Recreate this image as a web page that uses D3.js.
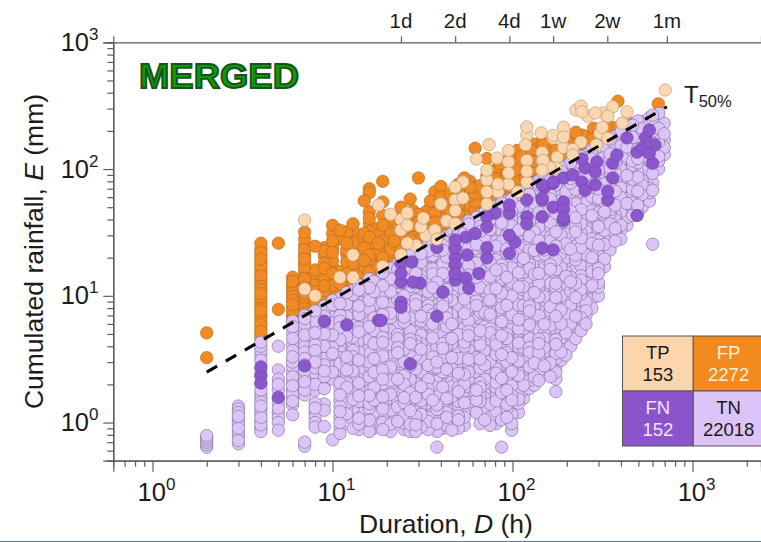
<!DOCTYPE html>
<html>
<head>
<meta charset="utf-8">
<script src="https://cdn.jsdelivr.net/npm/d3@7"></script>
<style>
  html, body { margin: 0; padding: 0; background: #fff; }
  svg { display: block; }
  text { font-family: "Liberation Sans", Arial, sans-serif; fill: #1c1c1c; }
</style>
</head>
<body>
<svg id="chart" width="761" height="542" viewBox="0 0 761 542"></svg>
<script>
// true negatives: one list of cumulated rainfall per duration
const tnD = [2, 3, 4, 5, 6, 7, 8, 9, 10, 11, 12, 13, 14, 16, 17, 19, 21, 23, 25, 27, 29, 31, 34, 36, 38, 41, 43, 46, 50, 54, 57, 63, 66, 70, 75, 81, 87, 93, 99, 108, 115, 124, 132, 140, 150, 162, 174, 186, 198, 210, 224, 240, 256, 276, 300, 324, 348, 372, 400, 432, 464, 496, 525, 576, 600, 648, 696];
const tnE = [
  [.64, .67, .7, .73, .76, .79],
  [.68, .72, .78, .84, .9, .97, 1.05, 1.12, 1.2, 1.28, 1.35],
  [.85, .9, .96, 1.03, 1.1, 1.18, 1.26, 1.35, 1.45, 1.55, 1.65, 1.8, 2, 2.3, 2.6, 3.1, 3.4, 3.7, 4, 4.3],
  [.87, 1, 1.1, 1.2, 1.3, 1.42, 1.55, 1.8, 2, 2.2, 2.6, 4],
  [1.15, 1.38, 1.47, 1.57, 1.68, 1.8, 1.95, 2.1, 2.3, 2.5, 2.75, 3, 3.3, 3.7, 4.1, 4.6, 5.1, 5.7, 6.3],
  [.65, .7, 1.65, 1.8, 1.95, 2.1, 2.3, 2.55, 2.85, 3.2, 3.6, 4, 4.4, 4.9, 5.4, 6, 6.6, 7],
  [.92, 1, 1.1, 1.2, 1.3, 1.42, 1.8, 2, 2.2, 2.45, 2.7, 3, 3.3, 3.7, 4.1, 4.6, 5.1, 5.7, 6.3, 7, 7.6],
  [.93, 1.25, 1.4, 1.85, 2.05, 2.3, 2.55, 2.85, 3.2, 3.55, 4, 4.45, 5, 5.6, 6.2, 6.9, 7.6, 8.3],
  [.73, 2.2, 2.5, 2.75, 3.1, 3.5, 3.9, 4.4, 4.9, 5.5, 6.1, 6.8, 7.6, 8.5, 9.2],
  [.82, .9, 1, 1.1, 1.22, 1.35, 1.5, 1.65, 1.85, 2.05, 2.3, 2.6, 2.9, 3.25, 3.6, 4, 4.5, 5, 5.6, 6.3, 7, 7.8, 8.7, 9.6],
  [1.17, 1.32, 1.43, 1.66, 1.9, 2.05, 2.4, 2.6, 3.05, 3.3, 3.9, 4.3, 4.75, 5.5, 6, 6.9, 7.4, 8.6, 9.3, 10.6],
  [.9, 1.05, 1.13, 1.3, 1.52, 2.3, 2.55, 2.8, 3.3, 3.7, 4.05, 4.7, 5.1, 5.8, 6.2, 7.3, 8, 9.2, 10.2, 11],
  [.88, .97, 1.08, 1.2, 1.28, 1.47, 1.62, 1.85, 2.05, 2.2, 2.55, 2.9, 3.1, 3.6, 4.1, 4.4, 5.2, 5.6, 6.5, 7.1, 8.3, 8.9, 10.3, 11.1, 12.2],
  [.85, .92, 1.04, 1.13, 1.3, 1.41, 1.63, 1.78, 2.1, 2.3, 2.75, 3, 3.5, 3.85, 4.5, 4.9, 5.7, 6.2, 7.3, 7.9, 9.2, 10, 11.6, 12.6, 13.6],
  [.9, 1.2, 1.5, 1.9, 2.5, 3.2, 4.2, 5.3, 6.7, 8.5, 10.8, 13],
  [.88, 1, 1.08, 1.28, 1.38, 1.6, 1.72, 2.02, 2.2, 2.6, 2.85, 3.35, 3.7, 4.3, 4.7, 5.5, 6, 7.1, 7.6, 8.9, 9.7, 11.2, 12, 14, 15.2],
  [.85, .97, 1.06, 1.25, 1.33, 1.55, 1.67, 1.98, 2.15, 2.5, 2.75, 3.25, 3.55, 4.15, 4.55, 5.3, 5.75, 6.7, 7.3, 8.5, 9.2, 10.8, 11.7, 13.6, 14.8, 16.5],
  [1.02, 1.13, 1.33, 1.46, 1.7, 1.86, 2.2, 2.35, 2.75, 3.05, 3.55, 3.9, 4.6, 4.95, 5.8, 6.3, 7.3, 8, 9.3, 10.1, 11.8, 12.8, 14.9, 16.2, 17.8],
  [.88, .99, 1.14, 1.23, 1.43, 1.57, 1.83, 2, 2.35, 2.55, 3, 3.25, 3.8, 4.15, 4.9, 5.3, 6.2, 6.8, 7.9, 8.6, 10, 10.9, 12.8, 13.8, 16.2, 17.5, 19.6],
  [.85, .97, 1.06, 1.24, 1.36, 1.58, 1.72, 2, 2.2, 2.55, 2.8, 3.3, 3.6, 4.2, 4.55, 5.3, 5.8, 6.7, 7.4, 8.6, 9.3, 11, 11.9, 13.9, 15.1, 17.7, 19.1, 21],
  [.85, .96, 1.12, 1.22, 1.45, 1.58, 1.88, 2.05, 2.42, 2.65, 3.15, 3.4, 4.05, 4.4, 5.2, 5.65, 6.7, 7.3, 8.5, 9.3, 10.9, 11.8, 13.8, 15.1, 17.6, 19.2, 21.5],
  [.92, 1.06, 1.16, 1.37, 1.48, 1.75, 1.92, 2.25, 2.5, 2.95, 3.2, 3.8, 4.2, 4.9, 5.4, 6.3, 6.9, 8.1, 8.8, 10.3, 11.3, 13.2, 14.3, 16.9, 18.4, 21.5, 23],
  [.88, 1.02, 1.1, 1.3, 1.42, 1.67, 1.83, 2.18, 2.38, 2.83, 3.05, 3.65, 4, 4.7, 5.1, 6, 6.6, 7.7, 8.4, 9.9, 10.8, 12.7, 13.8, 16.2, 17.7, 20.8, 22.6, 25.2],
  [1, 1.17, 1.27, 1.5, 1.64, 1.95, 2.13, 2.53, 2.75, 3.3, 3.55, 4.25, 4.65, 5.45, 6, 7.1, 7.7, 9, 9.8, 11.6, 12.6, 14.9, 16.3, 19.2, 20.8, 24.3, 25.9],
  [.64, .85, .98, 1.07, 1.27, 1.38, 1.64, 1.8, 2.12, 2.33, 2.72, 3, 3.6, 3.9, 4.65, 5.05, 6, 6.5, 7.7, 8.4, 9.9, 10.8, 12.8, 14, 16.5, 17.9, 21, 22.9, 26.6],
  [.9, 1.06, 1.14, 1.37, 1.5, 1.77, 1.91, 2.3, 2.5, 2.95, 3.25, 3.85, 4.2, 5, 5.4, 6.4, 7, 8.3, 9, 10.7, 11.7, 13.8, 15, 17.8, 19.4, 22.9, 25, 28.4],
  [.95, 1.1, 1.2, 1.43, 1.55, 1.86, 2, 2.4, 2.63, 3.1, 3.4, 4.05, 4.4, 5.2, 5.7, 6.7, 7.4, 8.6, 9.5, 11.2, 12.2, 14.5, 15.7, 18.7, 20.3, 24, 26.2, 29.6],
  [.87, .97, 1.14, 1.24, 1.48, 1.6, 1.92, 2.08, 2.5, 2.73, 3.25, 3.55, 4.2, 4.6, 5.5, 6, 7.1, 7.7, 9.2, 10, 11.8, 12.9, 15.3, 16.6, 19.8, 21.5, 25.5, 27.7, 31],
  [.9, 1.05, 1.13, 1.36, 1.47, 1.75, 1.9, 2.25, 2.45, 2.95, 3.2, 3.8, 4.15, 4.95, 5.35, 6.4, 6.95, 8.3, 9, 10.7, 11.7, 13.9, 15.1, 18, 19.6, 23.2, 25.2, 30, 32.5, 34],
  [.95, 1.1, 1.2, 1.43, 1.56, 1.85, 2.02, 2.4, 2.6, 3.05, 3.35, 4, 4.3, 5.15, 5.6, 6.65, 7.25, 8.6, 9.4, 11.2, 12.1, 14.5, 15.8, 18.7, 20.4, 24.3, 26.3, 31.3, 34, 36],
  [1.45, 1.7, 1.95, 2.2, 2.5, 2.9, 3.15, 3.75, 4.1, 4.85, 5.25, 6.3, 6.8, 8.1, 8.8, 10.4, 11.4, 13.5, 14.6, 17.4, 19, 22.5, 24.4, 29, 31.6, 36.9, 39],
  [1.2, 1.38, 1.5, 1.8, 1.95, 2.3, 2.52, 3, 3.25, 3.85, 4.2, 5, 5.4, 6.5, 7, 8.4, 9.1, 10.9, 11.8, 14, 15.3, 18.2, 19.7, 23.5, 25.5, 30.3, 33, 38, 41.6],
  [.98, 1.13, 1.24, 1.47, 1.6, 1.9, 2.06, 2.45, 2.68, 3.17, 3.45, 4.1, 4.45, 5.3, 5.8, 6.9, 7.5, 8.9, 9.7, 11.6, 12.5, 14.9, 16.2, 19.3, 20.9, 24.9, 27, 32.2, 35, 41, 43.2],
  [1.05, 1.22, 1.32, 1.57, 1.7, 2.03, 2.2, 2.63, 2.85, 3.4, 3.7, 4.4, 4.75, 5.7, 6.2, 7.4, 8, 9.6, 10.4, 12.4, 13.5, 16, 17.4, 20.7, 22.5, 26.8, 29, 34.6, 37.5, 43.5, 45.5],
  [.95, 1.1, 1.2, 1.4, 1.55, 1.82, 1.98, 2.36, 2.55, 3.05, 3.3, 3.95, 4.25, 5.1, 5.5, 6.6, 7.15, 8.5, 9.25, 11, 12, 14.2, 15.5, 18.4, 20, 23.7, 25.8, 30.7, 33.3, 39.8, 43, 48],
  [.98, 1.14, 1.23, 1.48, 1.6, 1.9, 2.07, 2.45, 2.66, 3.16, 3.45, 4.1, 4.45, 5.3, 5.75, 6.85, 7.45, 8.85, 9.65, 11.4, 12.4, 14.8, 16, 19.2, 20.7, 24.7, 26.9, 31.9, 34.7, 41.3, 45, 51],
  [.64, 1.05, 1.22, 1.33, 1.6, 1.72, 2.05, 2.23, 2.65, 2.87, 3.45, 3.75, 4.45, 4.85, 5.75, 6.25, 7.45, 8.05, 9.6, 10.5, 12.5, 13.5, 16.1, 17.5, 20.8, 22.6, 26.9, 29.2, 34.8, 37.6, 44.7, 48.5, 54],
  [1.1, 1.28, 1.39, 1.65, 1.8, 2.13, 2.3, 2.75, 3, 3.55, 3.85, 4.6, 5, 5.95, 6.45, 7.7, 8.4, 9.95, 10.8, 12.9, 14, 16.7, 18.1, 21.5, 23.4, 27.8, 30.2, 36, 39, 46.6, 50.3, 56],
  [.87, .98, 1.16, 1.26, 1.5, 1.63, 1.95, 2.1, 2.52, 2.72, 3.25, 3.55, 4.2, 4.6, 5.45, 5.95, 7.1, 7.65, 9.15, 9.95, 11.8, 12.8, 15.3, 16.6, 19.8, 21.4, 25.5, 27.7, 33, 35.7, 42.5, 46.2, 54, 58],
  [1.2, 1.42, 1.53, 1.82, 1.98, 2.35, 2.55, 3.05, 3.3, 3.95, 4.25, 5.05, 5.5, 6.5, 7.1, 8.45, 9.15, 10.9, 11.8, 14.1, 15.2, 18.2, 19.7, 23.4, 25.5, 30.3, 33, 39.2, 42.6, 50.5, 54.8, 63],
  [1.55, 1.82, 1.97, 2.33, 2.55, 3.02, 3.3, 3.9, 4.25, 5.05, 5.5, 6.5, 7.1, 8.4, 9.15, 10.9, 11.8, 14, 15.3, 18.1, 19.7, 23.5, 25.4, 30.3, 33, 39, 42.5, 50.5, 55, 62, 67],
  [1.85, 2.15, 2.35, 2.75, 3, 3.55, 3.9, 4.6, 5, 5.9, 6.45, 7.6, 8.3, 9.8, 10.7, 12.7, 13.8, 16.4, 17.8, 21.1, 23, 27.2, 29.6, 35, 38.3, 45.2, 49.4, 58, 63, 72],
  [1.97, 2.3, 2.5, 2.95, 3.2, 3.8, 4.15, 4.95, 5.35, 6.35, 6.9, 8.2, 8.9, 10.6, 11.5, 13.7, 14.8, 17.7, 19.2, 22.8, 24.8, 29.4, 32, 38, 41.3, 49, 53.5, 63.5, 69, 77],
  [2.15, 2.55, 2.75, 3.25, 3.55, 4.2, 4.55, 5.4, 5.9, 7, 7.6, 9, 9.8, 11.6, 12.6, 15, 16.3, 19.4, 21, 25, 27.2, 32.3, 35, 41.7, 45.3, 53.8, 58.4, 69.5, 75, 81],
  [2.4, 2.8, 3, 3.6, 3.9, 4.6, 5, 5.95, 6.45, 7.65, 8.3, 9.85, 10.7, 12.8, 13.8, 16.5, 17.9, 21.3, 23, 27.4, 29.8, 35.5, 38.5, 45.8, 49.7, 59, 64, 76, 83, 88],
  [2.3, 2.75, 2.95, 3.5, 3.8, 4.5, 4.9, 5.85, 6.3, 7.55, 8.2, 9.7, 10.5, 12.5, 13.6, 16.2, 17.6, 20.9, 22.7, 27, 29.2, 34.8, 37.8, 45, 48.8, 58, 63, 75, 81, 92],
  [1.75, 2.2, 2.5, 2.7, 3.2, 3.5, 4.15, 4.5, 5.35, 5.8, 6.9, 7.5, 8.9, 9.7, 11.5, 12.5, 14.9, 16.1, 19.2, 20.8, 24.7, 26.9, 32, 34.7, 41.3, 44.9, 53.2, 58, 68.8, 74.7, 88.5, 97],
  [3.1, 3.6, 3.9, 4.65, 5.05, 6, 6.5, 7.75, 8.4, 10, 10.8, 12.9, 14, 16.6, 18.1, 21.5, 23.3, 27.7, 30.1, 35.8, 38.9, 46.2, 50.2, 59.6, 64.8, 77, 84, 96, 103],
  [3.4, 4, 4.3, 5.1, 5.55, 6.6, 7.2, 8.5, 9.25, 11, 11.9, 14.2, 15.4, 18.3, 19.9, 23.7, 25.7, 30.6, 33.2, 39.5, 42.9, 51, 55.4, 65.8, 71.5, 85, 92, 106],
  [4, 4.7, 5.05, 6, 6.5, 7.75, 8.4, 10, 10.9, 12.9, 14, 16.7, 18.1, 21.5, 23.4, 27.8, 30.2, 36, 39, 46.4, 50.4, 59.9, 65, 77.4, 84, 100, 112],
  [4.6, 5.4, 5.8, 6.9, 7.5, 8.9, 9.7, 11.5, 12.5, 14.9, 16.2, 19.2, 20.9, 24.8, 27, 32, 34.8, 41.4, 45, 53.4, 58, 69, 75, 89, 97, 118],
  [5.3, 6.2, 6.7, 8, 8.65, 10.3, 11.2, 13.3, 14.4, 17.2, 18.7, 22.2, 24.1, 28.6, 31.1, 37, 40.2, 47.8, 51.9, 61.6, 67, 79.7, 86.5, 103, 111, 126],
  [6, 7, 7.6, 9, 9.8, 11.7, 12.7, 15, 16.4, 19.4, 21.1, 25, 27.2, 32.3, 35.1, 41.7, 45.3, 53.9, 58.5, 69.6, 75.6, 90, 97.7, 116, 130],
  [8, 9.4, 10.1, 12, 13.1, 15.5, 16.9, 20, 21.8, 25.9, 28.1, 33.4, 36.3, 43, 46.9, 55.7, 60.5, 71.9, 78, 92.9, 101, 120, 142],
  [10, 11.7, 12.7, 15, 16.4, 19.5, 21.1, 25.1, 27.3, 32.4, 35.2, 41.8, 45.4, 54, 58.6, 69.7, 75.7, 90, 98, 116, 126, 150],
  [17, 19.5, 21.4, 25.4, 27.6, 32.8, 35.6, 42.3, 46, 54.6, 59.3, 70.5, 76.6, 91, 99, 118, 128, 152, 165],
  [23, 26.5, 28.6, 34, 36.9, 43.9, 47.7, 56.6, 61.5, 73, 79.4, 94.4, 102, 122, 132, 157, 172],
  [27, 31, 34, 40, 43.5, 51.8, 56.2, 66.8, 72.5, 86.2, 93.6, 111, 121, 144, 156, 182],
  [28, 33, 36, 42.5, 46.2, 55, 59.7, 70.9, 77, 91.6, 99.4, 118, 128, 152, 166, 197],
  [36, 41.5, 45, 53.5, 58.2, 69, 75, 89, 96.8, 115, 125, 149, 161, 192, 208],
  [43, 50, 54, 64.2, 69.7, 82.9, 90, 107, 116, 138, 150, 178, 194, 222],
  [45, 52, 56.4, 67, 72.8, 86.5, 94, 112, 121, 144, 157, 186, 202, 240],
  [50, 58, 63, 74.8, 81.2, 96.6, 105, 125, 135, 161, 175, 208, 236],
  [56, 65, 70.6, 84, 91, 108, 118, 140, 152, 181, 196, 233, 255],
  [25.5, 68, 78, 92, 100, 119, 129, 154, 167, 199, 216, 250, 266],
  [100, 116, 126, 150, 163, 194, 210, 250, 275],
  [130, 148, 170, 190, 230]
];

// false positives, same layout
const fpD = [2, 4, 5, 6, 7, 8, 9, 10, 11, 12, 13, 15, 16, 18, 19, 21, 22, 24, 27, 28, 30, 33, 35, 37, 40, 42, 45, 48, 50, 54, 58, 62, 66, 72, 76, 80, 83, 85, 90, 96, 99, 103, 106, 112, 118, 124, 128, 130, 138, 144, 148, 161, 175, 200, 225, 245, 260, 278, 282, 300, 330, 360, 385, 420, 469, 645];
const fpE = [
  [3.25, 5.1],
  [4.6, 4.9, 5.2, 5.5, 5.9, 6.3, 6.7, 7.1, 7.6, 8.1, 8.6, 9.2, 9.8, 10.4, 11.1, 11.8, 12.6, 13.4, 14.3, 15.2, 16.2, 17.2, 18.3, 19.5, 20.8, 22, 23.6, 26],
  [7.8, 26],
  [6.5, 7, 7.5, 8, 8.5, 9.2, 9.9, 10.6, 11.3, 12, 13, 14],
  [7.3, 8, 8.8, 9.6, 10.5, 11.5, 12.6, 13.6, 14.5, 15.5, 16.8, 18, 19.5, 21, 23, 25, 28, 31.8],
  [8, 9, 9.8, 11, 13.3, 15, 16, 24.6],
  [9, 10, 11, 12, 13.5, 15, 16.5, 18, 20.5, 22.5, 24],
  [10, 10.8, 12, 13.5, 15, 17, 19, 22, 24, 27, 31, 36],
  [10, 11, 12.5, 14, 15.5, 28, 33],
  [11.5, 13, 15, 16.5, 18.5, 21, 23, 26, 32],
  [12, 13.5, 16, 18, 20.5, 23, 26, 30, 33, 37],
  [13, 15, 17, 19, 21, 24, 27, 31, 56],
  [14, 15.5, 17, 19, 21, 23, 26, 29, 32, 37, 41, 46, 65, 70],
  [15, 17, 19, 22, 26, 30, 34],
  [16, 18, 20, 24, 27, 30, 36, 43, 55, 80],
  [17.5, 20, 23, 27, 31, 35, 40],
  [18, 21, 24, 27, 30, 36, 42],
  [20, 23, 27.6, 33, 39, 50],
  [21, 24, 28, 34, 40, 58],
  [22, 25, 29, 35, 41, 47],
  [24, 27, 32, 38, 44, 85],
  [25, 29, 33, 38, 46],
  [26, 30, 36, 43, 50, 56],
  [28, 33, 38, 45, 57, 66],
  [30, 35, 42, 50, 60, 73],
  [31, 37, 44, 52, 60],
  [33, 38, 47, 54, 64],
  [36, 42, 48, 58, 70],
  [38, 44, 52, 60, 68, 76],
  [41, 48, 57, 66, 85],
  [44, 52, 62, 72, 80],
  [47, 55, 64, 72, 146],
  [48, 56, 64, 74],
  [54, 62, 75, 88, 121],
  [56, 64, 72, 86],
  [56, 66, 73, 84, 98],
  [58, 70, 83, 95],
  [60, 68, 80, 92, 110],
  [64, 74, 88, 104],
  [62, 72, 85, 100, 122],
  [72, 90, 108, 130],
  [72, 85, 98, 116],
  [80, 100, 110, 140],
  [78, 92, 106, 126],
  [72, 85, 100, 150],
  [84, 96, 112, 130],
  [78, 90, 105, 140],
  [115, 157],
  [88, 102, 120, 145],
  [85, 100, 120, 135, 165],
  [110, 155],
  [100, 118, 150],
  [108, 124, 140],
  [120, 135, 165],
  [135, 150, 175, 195],
  [150, 185],
  [160, 178],
  [172],
  [210],
  [170, 190],
  [185, 215],
  [213, 195],
  [343],
  [200, 225],
  [230],
  [327]
];

// true positives, one point per pair
const tpD = [7, 7, 8, 11, 13, 13, 18, 19, 21, 24, 24, 24, 26, 26, 26, 29, 31, 32, 33, 37, 38, 40, 43, 48, 48, 48, 48, 53, 53, 63, 72, 72, 72, 72, 74, 82, 83, 83, 95, 95, 95, 95, 107, 118, 120, 120, 120, 120, 120, 144, 146, 146, 146, 148, 161, 168, 168, 174, 177, 177, 192, 192, 192, 216, 216, 225, 240, 240, 243, 262, 288, 292, 306, 315, 320, 338, 338, 360, 407, 432, 705];
const tpE = [39.6, 11.3, 10, 14, 21, 14, 52, 17, 44, 40, 33, 21, 26, 45, 36, 25, 35, 41, 30, 33, 28, 53, 39, 72, 57, 47, 37, 79, 59, 120, 98, 82, 66, 53, 156, 122, 76, 66, 140, 114, 93, 76, 66, 155, 215, 185, 117, 96, 79, 193, 135, 117, 98, 117, 103, 175, 184, 102, 124, 124, 214, 179, 148, 143, 129, 292, 314, 163, 283, 261, 277, 155, 192, 214, 277, 261, 175, 310, 230, 283, 420];

// false negatives, one point per pair
const fnD = [4, 4, 4, 5, 7, 9, 12, 18, 18.6, 24, 24, 24, 24, 24, 27, 27.6, 28, 30.6, 38, 38, 41, 48, 48, 48, 48, 48, 48, 55, 55, 56, 57, 62, 65, 72, 72, 72, 72, 80, 96, 96, 96, 96, 103, 120, 120, 120, 146, 146, 146, 146, 146, 151, 168, 168, 168, 168, 192, 192, 192, 192, 192, 216, 243, 243, 253, 253, 288, 288, 294, 338, 338, 360, 360, 380, 432, 492, 492, 525, 550, 575, 575, 600, 618];
const fnE = [2.75, 2.37, 2.05, 1.58, 2.8, 6.3, 5.9, 6.4, 6.4, 18, 15, 12.8, 8.9, 8.1, 2.9, 18.5, 12.8, 12.6, 24, 6.9, 10.7, 27.6, 23.8, 20, 17.5, 15, 13.3, 29, 13.8, 21, 11.5, 31, 15, 42, 35, 24, 19.9, 45, 52, 45, 30, 21.6, 26.5, 57, 42, 37, 75, 59, 57, 42, 23.8, 72, 79, 77, 50, 23, 85, 55, 48, 41, 39, 90, 120, 79, 102, 68, 95, 75, 114, 67, 57, 111, 85, 129, 176, 136, 43, 147, 178, 203, 133, 111, 155];

const thresholdD = [2, 720];
const thresholdE = [2.5, 310];

const decadeExp = [0, 1, 2, 3];
const timeLabels = ["1d", "2d", "4d", "1w", "2w", "1m"];
const timeHours = [24, 48, 96, 168, 336, 720];
const xMinor = [0.7, 0.8, 0.9, 2, 3, 4, 5, 6, 7, 8, 9, 20, 30, 40, 50, 60, 70, 80, 90, 200, 300, 400, 500, 600, 700, 800, 900, 2000];
const yMinor = [0.5, 0.6, 0.7, 0.8, 0.9, 2, 3, 4, 5, 6, 7, 8, 9, 20, 30, 40, 50, 60, 70, 80, 90, 200, 300, 400, 500, 600, 700, 800, 900];

const contingency = [
  { name: "TP", value: "153", fill: "#fbd5ac", ink: "#1a1a1a" },
  { name: "FP", value: "2272", fill: "#f28a1e", ink: "#fbeedd" },
  { name: "FN", value: "152", fill: "#8b54cc", ink: "#efe6f8" },
  { name: "TN", value: "22018", fill: "#dcc4f9", ink: "#1a1a1a" },
];

const svg = d3.select("#chart");
const axisColor = "#5c5c5c";

const x = d3.scaleLog().domain([0.6055, 2400]).range([113.3, 761]);
const y = d3.scaleLog().domain([0.5, 1000]).range([460.7, 42.3]);

// flatten the column lists into points
function columns(ds, es) {
  return ds.flatMap((d, i) => es[i].map((e) => ({ d, e })));
}
function pairs(ds, es) {
  return ds.map((d, i) => ({ d, e: es[i] }));
}
// the plot was not drawn column by column, so mix the painting order a bit
function paintKey(p) {
  return (p.e * 137.13 + p.d * 71.7) % 1;
}

function drawPoints(data, fill, stroke) {
  svg.append("g")
    .selectAll("circle")
    .data(data.slice().sort((a, b) => paintKey(a) - paintKey(b)))
    .enter()
    .append("circle")
    .attr("cx", (p) => x(p.d))
    .attr("cy", (p) => y(p.e))
    .attr("r", 6.2)
    .attr("fill", fill)
    .attr("stroke", stroke)
    .attr("stroke-width", 0.7);
}

drawPoints(columns(fpD, fpE), "#f28a22", "#b56e26");
drawPoints(columns(tnD, tnE), "#dcc4f9", "#87759f");
drawPoints(pairs(fnD, fnE), "#8c56ce", "#6e49a3");
drawPoints(pairs(tpD, tpE), "#fbd6ae", "#b89b7e");

const line = d3.line().x((p) => x(p.d)).y((p) => y(p.e));
svg.append("path")
  .datum(pairs(thresholdD, thresholdE))
  .attr("d", line)
  .attr("fill", "none")
  .attr("stroke", "#000")
  .attr("stroke-width", 3)
  .attr("stroke-dasharray", "12,10");

// axes
function styleAxis(g) {
  g.selectAll("path, line").attr("stroke", axisColor).attr("stroke-width", 1.2);
  g.selectAll("text").remove();
}
const decades = decadeExp.map((e) => Math.pow(10, e));

svg.append("g").attr("transform", "translate(0,460.7)")
  .call(d3.axisBottom(x).tickValues(decades).tickSizeOuter(0).tickSize(11))
  .call(styleAxis);
svg.append("g").attr("transform", "translate(0,460.7)")
  .call(d3.axisBottom(x).tickValues(xMinor).tickSizeOuter(0).tickSize(6))
  .call(styleAxis);
svg.append("g").attr("transform", "translate(113.3,0)")
  .call(d3.axisLeft(y).tickValues(decades).tickSizeOuter(0).tickSize(10))
  .call(styleAxis);
svg.append("g").attr("transform", "translate(113.3,0)")
  .call(d3.axisLeft(y).tickValues(yMinor).tickSizeOuter(0).tickSize(6))
  .call(styleAxis);
svg.append("g").attr("transform", "translate(0,42.3)")
  .call(d3.axisTop(x).tickValues(timeHours).tickSizeOuter(0).tickSize(6))
  .call(styleAxis);

function powerLabel(sel, exp) {
  sel.append("tspan").text("10");
  sel.append("tspan").attr("dy", -11).attr("font-size", 17).text(exp);
}
svg.append("g").selectAll("text").data(decadeExp).enter().append("text")
  .attr("x", (e) => x(Math.pow(10, e)) + 4)
  .attr("y", 500.7)
  .attr("text-anchor", "middle")
  .attr("font-size", 25.5)
  .each(function (e) { powerLabel(d3.select(this), e); });
svg.append("g").selectAll("text").data(decadeExp).enter().append("text")
  .attr("x", 98.5)
  .attr("y", (e) => y(Math.pow(10, e)) + 8.5)
  .attr("text-anchor", "end")
  .attr("font-size", 25.5)
  .each(function (e) { powerLabel(d3.select(this), e); });

svg.append("g").selectAll("text").data(timeLabels).enter().append("text")
  .attr("x", (d, i) => x(timeHours[i]))
  .attr("y", 28)
  .attr("text-anchor", "middle")
  .attr("font-size", 20.5)
  .text((d) => d);

// titles
const xTitle = svg.append("text").attr("x", 446).attr("y", 533).attr("text-anchor", "middle").attr("font-size", 26.5);
xTitle.append("tspan").text("Duration, ");
xTitle.append("tspan").attr("font-style", "italic").text("D");
xTitle.append("tspan").text(" (h)");

const yTitle = svg.append("text").attr("transform", "translate(43,251.5) rotate(-90)").attr("text-anchor", "middle").attr("font-size", 26.5);
yTitle.append("tspan").text("Cumulated rainfall, ");
yTitle.append("tspan").attr("font-style", "italic").text("E");
yTitle.append("tspan").text(" (mm)");

svg.append("text")
  .attr("x", 139).attr("y", 88)
  .attr("font-size", 35).attr("font-weight", "bold")
  .attr("textLength", 160).attr("lengthAdjust", "spacingAndGlyphs")
  .style("fill", "#0a9a0a")
  .attr("stroke", "#14521a").attr("stroke-width", 1.8)
  .text("MERGED");

const tLabel = svg.append("text").attr("x", 684).attr("y", 103).attr("font-size", 24);
tLabel.append("tspan").text("T");
tLabel.append("tspan").attr("font-size", 16.5).attr("dy", 4).text("50%");

// contingency table
const cellX = d3.scaleBand().domain([0, 1]).range([622.5, 764]);
const cellY = d3.scaleBand().domain([0, 1]).range([336, 446]);
const cells = svg.append("g").selectAll("g").data(contingency).enter().append("g")
  .attr("transform", (c, i) => `translate(${cellX(i % 2)},${cellY(i >> 1)})`);
cells.append("rect")
  .attr("width", cellX.bandwidth())
  .attr("height", cellY.bandwidth())
  .attr("fill", (c) => c.fill)
  .attr("stroke", "#555")
  .attr("stroke-width", 1);
cells.append("text")
  .attr("x", cellX.bandwidth() / 2).attr("y", 23)
  .attr("text-anchor", "middle").attr("font-size", 18.5)
  .style("fill", (c) => c.ink)
  .text((c) => c.name);
cells.append("text")
  .attr("x", cellX.bandwidth() / 2).attr("y", 45)
  .attr("text-anchor", "middle").attr("font-size", 18.5)
  .style("fill", (c) => c.ink)
  .text((c) => c.value);

// thin strip at the bottom edge of the picture
svg.append("rect").attr("x", 0).attr("y", 541).attr("width", 761).attr("height", 1).attr("fill", "#5d7a99");
</script>
</body>
</html>
